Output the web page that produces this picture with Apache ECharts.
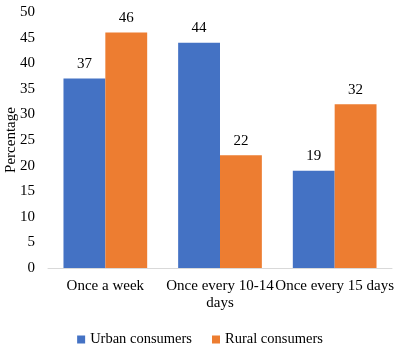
<!DOCTYPE html>
<html>
<head>
<meta charset="utf-8">
<script src="https://cdn.jsdelivr.net/npm/echarts@6/dist/echarts.min.js"></script>
<style>
    html, body { margin: 0; padding: 0; background: #fff; }
    #chart { width: 400px; height: 348px; }
</style>
</head>
<body>
<div id="chart"></div>
<script>
var categories = ['Once a week', 'Once every 10-14\ndays', 'Once every 15 days'];
var urbanValues = [37, 44, 19];
var ruralValues = [46, 22, 32];
var seriesNames = ['Urban consumers', 'Rural consumers'];

var font = '"Liberation Serif", "Times New Roman", serif';
var myChart = echarts.init(document.getElementById('chart'));

var option = {
    animation: false,
    textStyle: { fontFamily: font, color: '#000' },
    grid: { left: 48, right: 8, top: 12, bottom: 80, outerBoundsMode: 'none', containLabel: false },
    legend: {
        bottom: -4,
        left: 'center',
        itemWidth: 8,
        itemHeight: 8,
        itemGap: 20,
        icon: 'rect',
        textStyle: { fontFamily: font, fontSize: 14.5, color: '#000' },
        data: seriesNames
    },
    xAxis: {
        type: 'category',
        data: categories,
        axisLine: { lineStyle: { color: '#d9d9d9', width: 1 } },
        axisTick: { show: false },
        axisLabel: { fontFamily: font, fontSize: 15, color: '#000', margin: 10, lineHeight: 17, interval: 0 }
    },
    yAxis: {
        type: 'value',
        min: 0,
        max: 50,
        interval: 5,
        name: 'Percentage',
        nameLocation: 'middle',
        nameGap: 29,
        nameMoveOverlap: false,
        nameTextStyle: { fontFamily: font, fontSize: 15, color: '#000' },
        splitLine: { show: false },
        axisLine: { show: false },
        axisTick: { show: false },
        axisLabel: { fontFamily: font, fontSize: 15, color: '#000', margin: 13 }
    },
    series: [
        {
            name: seriesNames[0],
            type: 'bar',
            data: urbanValues,
            barGap: '0%',
            barCategoryGap: '27%',
            itemStyle: { color: '#4472c4' },
            label: { show: true, position: 'top', distance: 7, fontFamily: font, fontSize: 15, color: '#000' }
        },
        {
            name: seriesNames[1],
            type: 'bar',
            data: ruralValues,
            barGap: '0%',
            barCategoryGap: '27%',
            itemStyle: { color: '#ed7d31' },
            label: { show: true, position: 'top', distance: 7, fontFamily: font, fontSize: 15, color: '#000' }
        }
    ]
};

myChart.setOption(option);
</script>
</body>
</html>
